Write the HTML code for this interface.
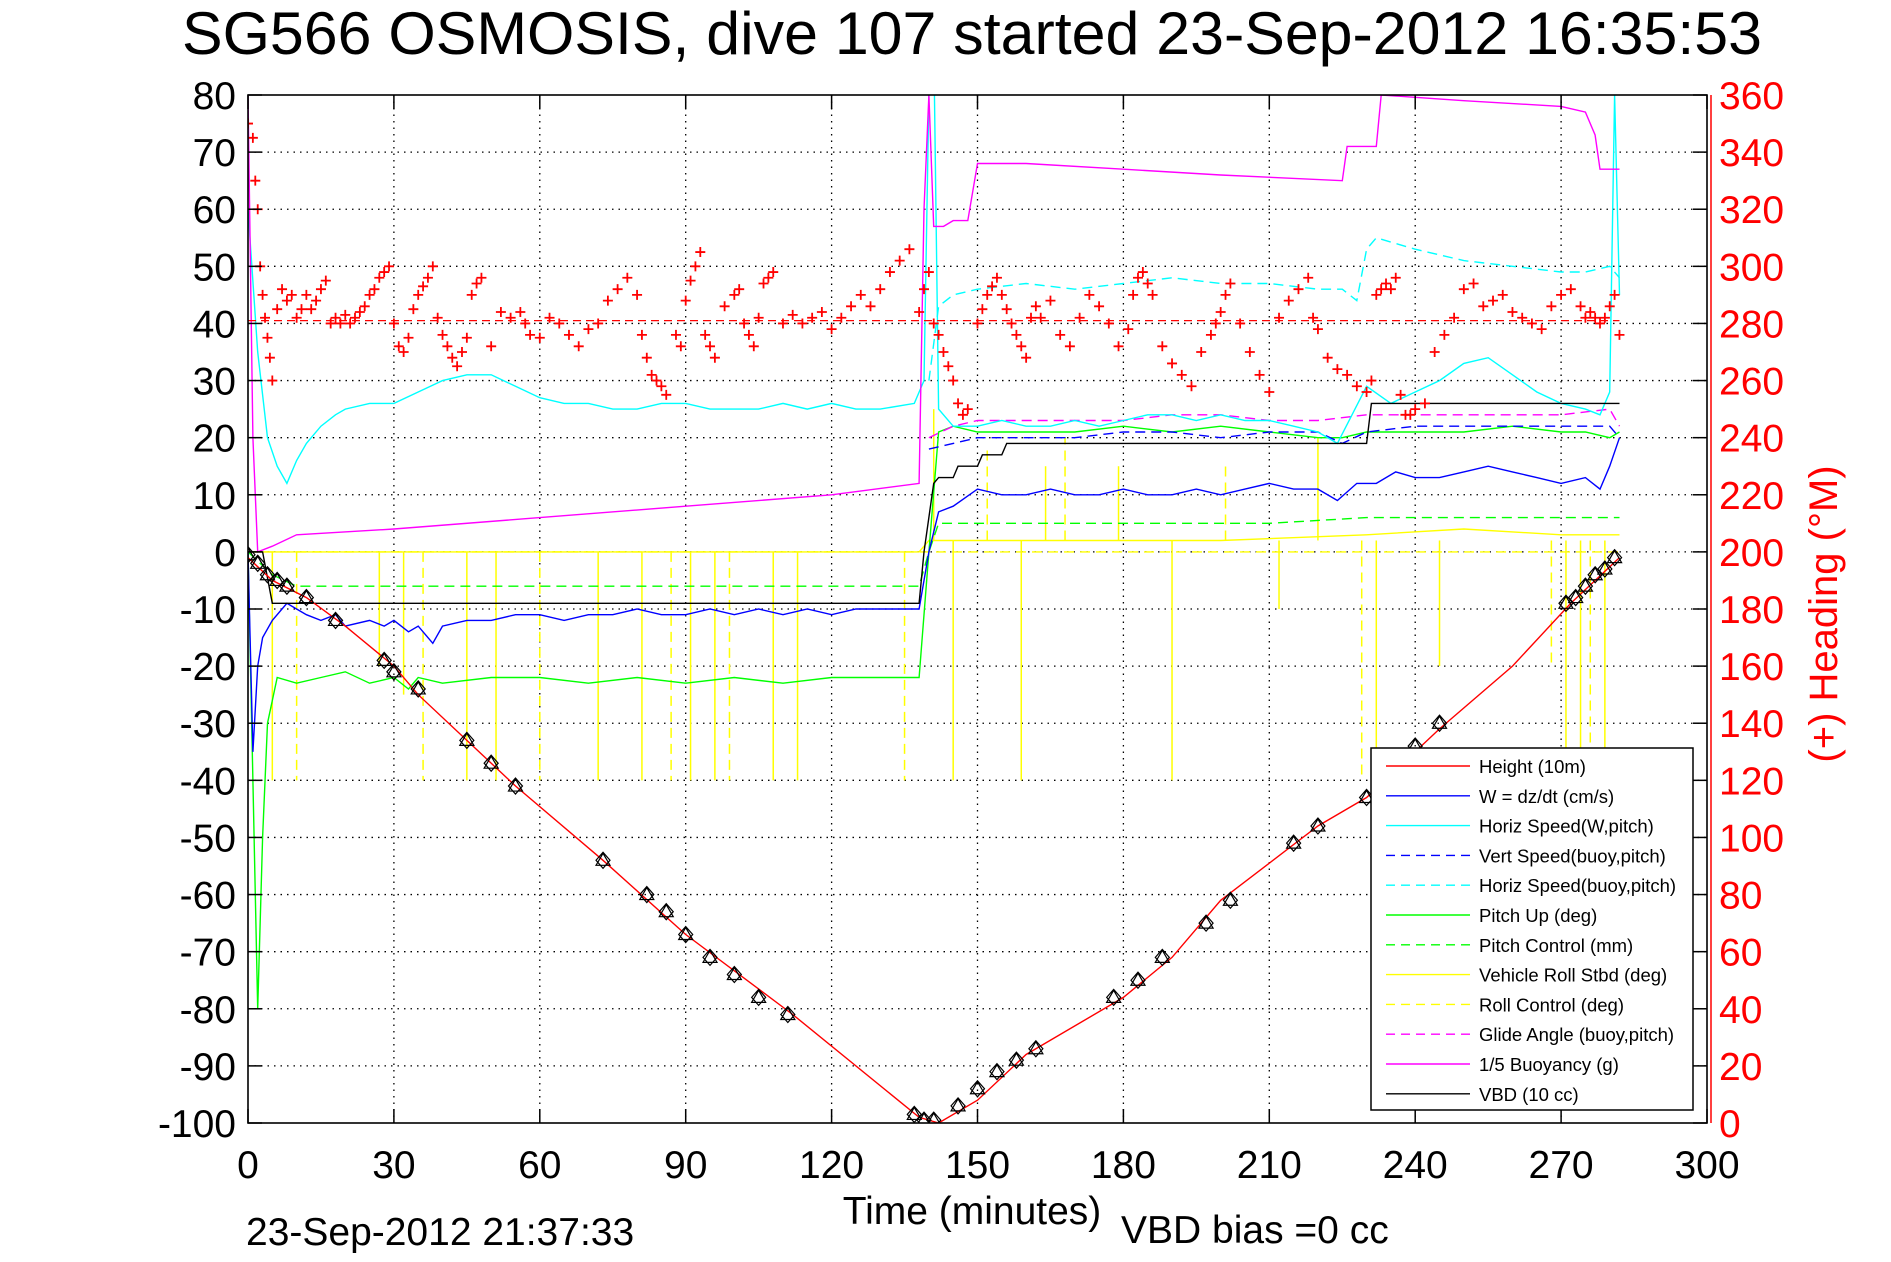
<!DOCTYPE html>
<html><head><meta charset="utf-8"><style>
html,body{margin:0;padding:0;background:#fff;}
svg{display:block;font-family:"Liberation Sans",sans-serif;}
</style></head><body>
<svg id="chart" width="1891" height="1262" viewBox="0 0 1891 1262" xmlns="http://www.w3.org/2000/svg">
<defs><clipPath id="plotclip"><rect x="248" y="95" width="1459" height="1028"/></clipPath></defs>
<rect x="0" y="0" width="1891" height="1262" fill="#fff"/>
<text x="972" y="54" font-size="60" text-anchor="middle" textLength="1580" lengthAdjust="spacingAndGlyphs">SG566 OSMOSIS, dive 107 started 23-Sep-2012 16:35:53</text>
<g id="grid"></g>
<g id="series" clip-path="url(#plotclip)"></g>
<g id="axes"></g>
<text x="972" y="1224" font-size="39" text-anchor="middle">Time (minutes)</text>
<text x="246" y="1245" font-size="39">23-Sep-2012 21:37:33</text>
<text x="1121" y="1243" font-size="39">VBD bias =0 cc</text>
<text x="0" y="0" font-size="40" fill="#f00" text-anchor="middle" transform="translate(1837,614) rotate(-90)">(+) Heading (°M)</text>
<g id="legend"></g>
</svg>
<script>
// ---- data ----
const xTicks=[0,30,60,90,120,150,180,210,240,270,300];
const yTicks=[80,70,60,50,40,30,20,10,0,-10,-20,-30,-40,-50,-60,-70,-80,-90,-100];
const yRTicks=[0,20,40,60,80,100,120,140,160,180,200,220,240,260,280,300,320,340,360];
const heightT=[0,5,12,20,30,35,55,73,90,112,138,142,150,160,180,190,200,220,230,245,260,272,282];
const heightV=[-1,-5,-8,-13,-20,-25,-41,-54,-67,-81,-99,-100,-96,-88,-78,-71,-61,-48,-43,-31,-20,-9,-1];
const markT=[0,2,4,6,8,12,18,28,30,35,45,50,55,73,82,86,90,95,100,105,111,137,139,141,146,150,154,158,162,178,183,188,197,202,215,220,230,240,245,271,273,275,277,279,281];
const markV=[-0.5,-2,-4,-5,-6,-8,-12,-19,-21,-24,-33,-37,-41,-54,-60,-63,-67,-71,-74,-78,-81,-98.5,-99.5,-99.5,-97,-94,-91,-89,-87,-78,-75,-71,-65,-61,-51,-48,-43,-34,-30,-9,-8,-6,-4,-3,-1];
const wT=[0,1,2,3,5,8,10,12,15,18,20,25,28,30,33,35,38,40,45,50,55,60,65,70,75,80,85,90,95,100,105,110,115,120,125,130,137,138,140,142,145,150,155,160,165,170,175,180,185,190,195,200,205,210,215,220,224,228,232,236,240,245,250,255,260,265,270,275,278,280,282];
const wV=[0,-35,-20,-15,-12,-9,-10,-11,-12,-11,-13,-12,-13,-12,-14,-13,-16,-13,-12,-12,-11,-11,-12,-11,-11,-10,-11,-11,-10,-11,-10,-11,-10,-11,-10,-10,-10,-10,0,7,8,11,10,10,11,10,10,11,10,10,11,10,11,12,11,11,9,12,12,14,13,13,14,15,14,13,12,13,11,15,20];
const hsT=[0,2,4,6,8,10,12,15,18,20,25,30,35,40,45,50,55,60,65,70,75,80,85,90,95,100,105,110,115,120,125,130,137,139,140,141,142,145,150,155,160,165,170,175,180,185,190,195,200,205,210,215,220,224,230,235,240,245,250,255,260,265,270,275,278,280,281,282];
const hsV=[60,35,20,15,12,16,19,22,24,25,26,26,28,30,31,31,29,27,26,26,25,25,26,26,25,25,25,26,25,26,25,25,26,30,80,90,25,22,22,23,22,22,23,22,23,24,24,23,24,23,23,22,21,19,29,26,28,30,33,34,31,28,26,25,24,28,80,45];
const vsT=[140,145,150,160,170,180,190,200,210,220,225,230,240,250,260,270,280,282];
const vsV=[18,19,20,20,20,21,21,20,21,21,19,21,22,22,22,22,22,20];
const hbT=[140,142,145,150,160,170,180,190,200,210,220,225,228,230,232,240,250,260,270,275,280,282];
const hbV=[30,43,45,46,47,46,47,48,47,47,46,46,44,53,55,53,51,50,49,49,50,48];
const pitchT=[0,1,2,3,4,6,10,15,20,25,30,33,35,40,50,60,70,80,90,100,110,120,130,137,138,140,142,145,150,160,170,180,190,200,210,220,225,230,240,250,260,270,275,280,282];
const pitchV=[0,-40,-80,-50,-30,-22,-23,-22,-21,-23,-22,-24,-22,-23,-22,-22,-23,-22,-23,-22,-23,-22,-22,-22,-22,0,21,22,21,21,21,22,21,22,21,20,20,21,21,21,22,21,21,20,21];
const pcT=[0,5,10,30,60,90,120,138,140,142,150,180,210,230,250,270,282];
const pcV=[0,-4,-6,-6,-6,-6,-6,-6,0,5,5,5,5,6,6,6,6];
const rollBaseT=[0,5,138,140,150,200,230,250,270,282];
const rollBaseV=[0,0,0,2,2,2,3,4,3,3];
const rollSpikeT=[5,10,27,32,36,45,51,60,72,81,87,91,96,99,108,113,135,141,145,152,159,164,168,179,190,201,212,220,229,232,245,268,271,274,276,279];
const rollSpikeV=[-40,-40,-20,-25,-40,-40,-40,-40,-40,-40,-40,-40,-40,-40,-40,-40,-40,25,-40,18,-40,15,20,15,-40,15,-10,20,-40,-40,-20,-20,-40,-40,-40,-40];
const glideT=[140,145,150,160,170,180,190,200,210,220,230,240,250,260,270,280,282];
const glideV=[20,22,23,23,23,23,24,24,23,23,24,24,24,24,24,25,22];
const buoyT=[0,1,2,5,10,30,60,90,120,138,139,140,141,143,145,148,150,160,180,200,225,226,232,233,250,270,275,277,278,282];
const buoyV=[80,20,0,1,3,4,6,8,10,12,60,80,57,57,58,58,68,68,67,66,65,71,71,80,79,78,77,73,67,67];
const vbdT=[0,3,5,10,60,138,139,141,142,145,146,150,151,155,156,230,231,282];
const vbdV=[0,0,-9,-9,-9,-9,0,12,13,13,15,15,17,17,19,19,26,26];
const headT=[0,1,1.5,2,2.5,3,3.5,4,4.5,5,6,7,8,9,10,11,12,13,14,15,16,17,18,19,20,21,22,23,24,25,26,27,28,29,30,31,32,33,34,35,36,37,38,39,40,41,42,43,44,45,46,47,48,50,52,54,56,57,58,60,62,64,66,68,70,72,74,76,78,80,81,82,83,84,85,86,88,89,90,91,92,93,94,95,96,98,100,101,102,103,104,105,106,107,108,110,112,114,116,118,120,122,124,126,128,130,132,134,136,138,139,140,141,142,143,144,145,146,147,148,150,151,152,153,154,155,156,157,158,159,160,161,162,163,165,167,169,171,173,175,177,179,181,182,183,184,185,186,188,190,192,194,196,198,199,200,201,202,204,206,208,210,212,214,216,218,219,220,222,224,226,228,230,231,232,233,234,235,236,237,238,239,240,242,244,246,248,250,252,254,256,258,260,262,264,266,268,270,272,274,275,276,277,278,279,280,281,282];
const headV=[350,345,330,320,300,290,282,275,268,260,285,292,288,290,282,285,290,285,288,292,295,280,282,280,283,280,282,284,286,290,292,296,298,300,280,272,270,275,285,290,293,296,300,282,276,272,268,265,270,275,290,294,296,272,284,282,284,280,276,275,282,280,276,272,278,280,288,292,296,290,276,268,262,260,258,255,276,272,288,295,300,305,276,272,268,286,290,292,280,276,272,282,294,296,298,280,283,280,282,284,278,282,286,290,286,292,298,302,306,284,292,298,280,276,270,265,260,252,248,250,280,285,290,293,296,290,285,280,276,272,268,282,286,282,288,276,272,282,290,286,280,272,278,290,296,298,294,290,272,266,262,258,270,276,280,284,290,294,280,270,262,256,282,288,292,296,282,278,268,264,262,258,256,260,290,292,294,292,296,255,248,248,250,252,270,276,282,292,294,286,288,290,284,282,280,278,286,290,292,286,282,284,282,280,282,286,290,276,272,268,266,262,276,280,290,282,276];
const headTarget=281;

// ---- scales ----
const L=248,R=1707,T=95,B=1123;
const X=t=>L+t*(R-L)/300;
const Y=v=>T+(80-v)*(B-T)/180;
const YR=h=>B-h*(B-T)/360;
const NS="http://www.w3.org/2000/svg";
function mk(parent,tag,attrs){const e=document.createElementNS(NS,tag);for(const k in attrs)e.setAttribute(k,attrs[k]);parent.appendChild(e);return e;}
const grid=document.getElementById('grid'),ser=document.getElementById('series'),axes=document.getElementById('axes'),leg=document.getElementById('legend');

xTicks.forEach(t=>{
  if(t>0&&t<300){const g=mk(grid,'line',{x1:X(t),x2:X(t),y1:T,y2:B,stroke:'#000','stroke-width':1.3,'stroke-dasharray':'1.5 5'});
  
  }
  const tk1=mk(axes,'line',{x1:X(t),x2:X(t),y1:B,y2:B-14,stroke:'#000','stroke-width':1.5});
  
  
  mk(axes,'line',{x1:X(t),x2:X(t),y1:T,y2:T+14,stroke:'#000','stroke-width':1.5});
  const lb=mk(axes,'text',{x:X(t),y:1178,'font-size':39,'text-anchor':'middle'});
  lb.textContent=t;
  
  
});
yTicks.forEach(v=>{
  if(v>-100&&v<80){const g=mk(grid,'line',{x1:L,x2:R,y1:Y(v),y2:Y(v),stroke:'#000','stroke-width':1.3,'stroke-dasharray':'1.5 5'});
  
  }
  mk(axes,'line',{x1:L,x2:L+14,y1:Y(v),y2:Y(v),stroke:'#000','stroke-width':1.5});
  const lb=mk(axes,'text',{x:236,y:Y(v)+14,'font-size':39,'text-anchor':'end'});
  lb.textContent=v;
  
  
});
yRTicks.forEach(h=>{
  mk(axes,'line',{x1:R-14,x2:R,y1:YR(h),y2:YR(h),stroke:'#000','stroke-width':1.5});
  const lb=mk(axes,'text',{x:1719,y:YR(h)+14,'font-size':39,fill:'#f00'});
  lb.textContent=h;
  
  
});
const frame=mk(axes,'rect',{x:L,y:T,width:R-L,height:B-T,fill:'none',stroke:'#000','stroke-width':1.6});


const raxis=mk(axes,'line',{x1:R+4,x2:R+4,y1:T,y2:B,stroke:'#f00','stroke-width':1.5});



function line(ts,vs,color,dash,name,yf){
  const f=yf||Y;
  const d=ts.map((t,i)=>(i?'L':'M')+X(t).toFixed(1)+','+f(vs[i]).toFixed(1)).join('');
  const p=mk(ser,'path',{d:d,fill:'none',stroke:color,'stroke-width':1.4});
  if(dash)p.setAttribute('stroke-dasharray',dash);
  
  
  return p;
}
const rollG=mk(ser,'g',{});


line(rollBaseT,rollBaseV,'#ff0',null,'vehicle-roll-base');
rollSpikeT.forEach((t,i)=>{
  const base=t<139?0:2;
  const s=mk(rollG,'line',{x1:X(t),x2:X(t),y1:Y(base),y2:Y(rollSpikeV[i]),stroke:'#ff0','stroke-width':1.5});
  if(i%3===1)s.setAttribute('stroke-dasharray','10 6');
  
  
});
line([0,282],[0,0],'#ff0','10 6','roll-control-series');
line(pcT,pcV,'#0f0','10 6','pitch-control-series');
line(pitchT,pitchV,'#0f0',null,'pitch-up-series');
line(glideT,glideV,'#f0f','10 6','glide-angle-series');
line(hbT,hbV,'#0ff','10 6','horiz-speed-buoy-series');
line(vsT,vsV,'#00f','10 6','vert-speed-buoy-series');
line(hsT,hsV,'#0ff',null,'horiz-speed-w-series');
line(wT,wV,'#00f',null,'w-series');
line(buoyT,buoyV,'#f0f',null,'buoyancy-series');
line(vbdT,vbdV,'#000',null,'vbd-series');
line(heightT,heightV,'#f00',null,'height-series');
const ht=mk(ser,'line',{x1:L,x2:X(282),y1:YR(headTarget),y2:YR(headTarget),stroke:'#f00','stroke-width':1.3,'stroke-dasharray':'8 5'});


markT.forEach((t,i)=>{
  const x=X(t),y=Y(markV[i]);
  const m=mk(ser,'path',{d:`M${x-7},${y}L${x},${y-8}L${x+7},${y}L${x},${y+8}Z M${x-7},${y+5}L${x},${y-7}L${x+7},${y+5}Z`,fill:'none',stroke:'#000','stroke-width':1.2});
  
  
});
headT.forEach((t,i)=>{
  const x=X(t),y=YR(headV[i]);
  const m=mk(ser,'path',{d:`M${x-5},${y}H${x+5}M${x},${y-5}V${y+5}`,stroke:'#f00','stroke-width':1.8});
  
  
});

const legItems=[['Height (10m)','#f00',null],['W = dz/dt (cm/s)','#00f',null],['Horiz Speed(W,pitch)','#0ff',null],['Vert Speed(buoy,pitch)','#00f','10 6'],['Horiz Speed(buoy,pitch)','#0ff','10 6'],['Pitch Up (deg)','#0f0',null],['Pitch Control (mm)','#0f0','10 6'],['Vehicle Roll Stbd (deg)','#ff0',null],['Roll Control (deg)','#ff0','10 6'],['Glide Angle (buoy,pitch)','#f0f','10 6'],['1/5 Buoyancy (g)','#f0f',null],['VBD (10 cc)','#000',null]];
const lbox=mk(leg,'rect',{x:1371,y:748,width:322,height:362,fill:'#fff',stroke:'#000','stroke-width':1.5});


legItems.forEach((it,i)=>{
  const y=766+i*29.8;
  const g=mk(leg,'g',{});
  
  
  const l=mk(g,'line',{x1:1386,x2:1470,y1:y,y2:y,stroke:it[1],'stroke-width':1.4});
  if(it[2])l.setAttribute('stroke-dasharray','9 6');
  const tx=mk(g,'text',{x:1479,y:y+7,'font-size':18.5});
  tx.textContent=it[0];
});
</script>
</body></html>
